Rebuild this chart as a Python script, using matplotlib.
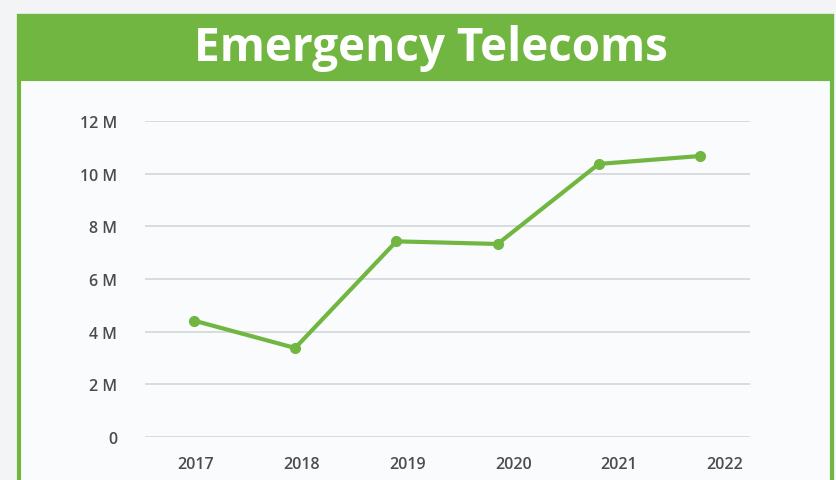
import matplotlib.pyplot as plt
from matplotlib.patches import Rectangle

# data
years = ['2017', '2018', '2019', '2020', '2021', '2022']
values = [4.42, 3.38, 7.43, 7.33, 10.37, 10.67]  # millions
y_ticks = [0, 2, 4, 6, 8, 10, 12]
y_labels = ['0', '2 M', '4 M', '6 M', '8 M', '10 M', '12 M']

green = '#72b642'
W, H = 837, 481

plt.rcParams['font.family'] = ['Open Sans', 'DejaVu Sans']

fig = plt.figure(figsize=(W / 100, H / 100), dpi=100)
fig.patch.set_facecolor('#f3f4f6')

# panel with green border and header
fig.patches.append(Rectangle((19 / W, -0.05), (832 - 19) / W, (H - 17) / H + 0.05,
                             transform=fig.transFigure, facecolor='#fafbfd',
                             edgecolor=green, linewidth=3, zorder=-2))
fig.patches.append(Rectangle((19 / W, 1 - 80 / H), (832 - 19) / W, (80 - 17) / H,
                             transform=fig.transFigure, facecolor=green,
                             edgecolor=green, linewidth=3, zorder=-1))
fig.text(431 / W, 1 - 49 / H, 'Emergency Telecoms', color='white', fontsize=33,
         fontweight='bold', ha='center', va='center')

ax = fig.add_axes([145 / W, 1 - 438 / H, (750 - 145) / W, (438 - 122) / H])
ax.set_facecolor('none')

x = list(range(len(years)))
ax.plot(x, values, color=green, linewidth=3, marker='o', markersize=7,
        clip_on=False, zorder=3)

ax.set_xlim(-0.484, 5.494)
ax.set_ylim(0, 12)
ax.set_yticks(y_ticks)
ax.set_yticklabels(y_labels)
# labels sit a little to the right of the points in the original
ax.set_xticks([i * 1.045 + 0.02 for i in x])
ax.set_xticklabels(years)

ax.grid(axis='y', color='#d3d6da', linewidth=1.2)
ax.set_axisbelow(True)
for s in ax.spines.values():
    s.set_visible(False)
ax.tick_params(length=0, colors='#4a4c4f', labelsize=11.5)
for lbl in ax.get_xticklabels() + ax.get_yticklabels():
    lbl.set_fontweight('semibold')
ax.tick_params(axis='y', pad=20)
ax.tick_params(axis='x', pad=14)

fig.savefig('out.png', dpi=100, facecolor=fig.get_facecolor())
